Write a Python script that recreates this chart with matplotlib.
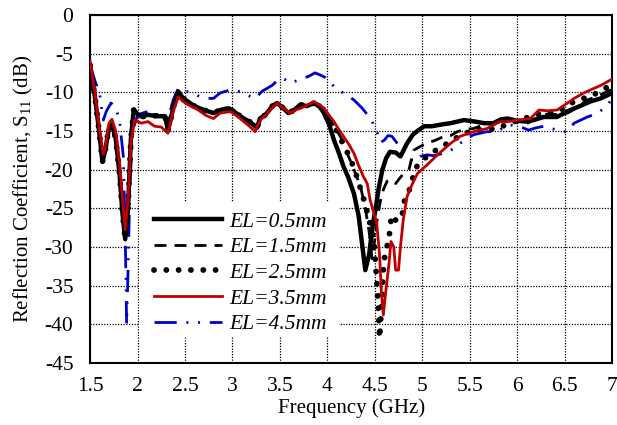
import matplotlib
matplotlib.use("Agg")
import matplotlib.pyplot as plt
from matplotlib.patches import Rectangle
from matplotlib.ticker import MultipleLocator, FuncFormatter

plt.rcParams.update({
    "font.family": "Liberation Serif",
    "font.size": 15,
    "axes.unicode_minus": False,
    "mathtext.fontset": "custom",
    "mathtext.rm": "Liberation Serif",
})

# Low band (1.5-3.8 GHz): the three black traces lie on top of each other
black_low_f = [1.50, 1.55, 1.60, 1.63, 1.66, 1.70, 1.73, 1.77, 1.81, 1.84, 1.87, 1.90,
               1.93, 1.96, 2.00, 2.05, 2.10, 2.15, 2.22, 2.29, 2.32, 2.35, 2.38, 2.43,
               2.48, 2.53, 2.60, 2.70, 2.80, 2.87, 2.94, 3.00, 3.06, 3.12, 3.18, 3.22,
               3.26, 3.29, 3.35, 3.42, 3.47, 3.53, 3.59, 3.65, 3.715, 3.78]
black_low_db = [-6.5, -10.5, -15.5, -19.0, -17.5, -14.5, -14.2, -16.0, -20.5, -25.5, -29.0, -25.0,
                -16.0, -12.3, -12.8, -13.2, -12.9, -13.0, -13.1, -13.1, -14.9, -13.5, -11.8, -9.9,
                -10.8, -11.2, -11.8, -12.3, -12.7, -12.3, -12.1, -12.3, -12.9, -13.4, -13.8, -14.2,
                -14.6, -13.4, -12.9, -11.8, -11.4, -12.0, -12.7, -12.3, -11.6, -11.8]

el05_f = [3.86, 3.92, 3.96, 4.02, 4.07, 4.12, 4.17, 4.22, 4.28, 4.33, 4.37, 4.40, 4.44,
          4.48, 4.51, 4.54, 4.58, 4.62, 4.66, 4.72, 4.77, 4.84, 4.90, 4.95, 5.02, 5.10,
          5.19, 5.30, 5.44, 5.56, 5.65, 5.75, 5.83, 5.90, 6.00, 6.11, 6.20, 6.28, 6.42,
          6.56, 6.66, 6.77, 6.88, 7.0]
el05_db = [-11.4, -11.9, -12.6, -14.2, -16.2, -17.8, -19.6, -21.0, -23.1, -26.0, -30.0, -33.0, -31.0,
           -27.0, -25.0, -22.5, -20.0, -18.5, -17.7, -17.8, -18.3, -16.6, -15.5, -15.0, -14.4, -14.4,
           -14.2, -14.0, -13.6, -13.8, -14.0, -14.0, -13.5, -13.4, -13.7, -13.8, -13.5, -13.2, -13.2,
           -12.3, -11.8, -11.2, -10.8, -10.1]

el15_f = [3.86, 3.92, 3.96, 4.02, 4.10, 4.17, 4.21, 4.28, 4.35, 4.40, 4.44, 4.47, 4.50,
          4.53, 4.56, 4.59, 4.63, 4.66, 4.72, 4.77, 4.82, 4.86, 4.91, 4.98, 5.05, 5.14,
          5.23, 5.30, 5.37, 5.45, 5.54, 5.65, 5.75, 5.90, 6.00, 6.11, 6.20, 6.32, 6.42,
          6.53, 6.63, 6.74, 6.85, 7.0]
el15_db = [-11.4, -11.6, -12.2, -13.5, -14.9, -16.5, -17.9, -20.0, -22.2, -25.0, -28.0, -31.5, -29.0,
           -26.0, -24.0, -22.6, -21.5, -21.3, -21.8, -21.0, -20.3, -20.0, -17.5, -17.0, -16.6, -16.2,
           -15.7, -15.6, -15.1, -14.8, -14.7, -14.2, -14.0, -13.6, -13.8, -14.0, -13.4, -12.8, -12.9,
           -12.7, -12.0, -11.0, -10.5, -9.6]

el25_f = [3.86, 3.92, 3.96, 4.02, 4.10, 4.17, 4.24, 4.30, 4.35, 4.40, 4.45, 4.49, 4.52,
          4.54, 4.55, 4.57, 4.59, 4.61, 4.65, 4.66, 4.68, 4.73, 4.79, 4.80, 4.86, 4.93,
          5.00, 5.10, 5.19, 5.29, 5.39, 5.48, 5.58, 5.68, 5.79, 5.88, 5.97, 6.08, 6.18,
          6.28, 6.39, 6.50, 6.60, 6.70, 6.81, 6.92, 7.0]
el25_db = [-11.4, -11.8, -12.3, -13.6, -15.0, -16.8, -18.5, -20.5, -22.5, -24.5, -27.0, -29.0, -34.3,
           -38.6, -41.8, -38.0, -33.0, -30.6, -29.1, -27.4, -25.9, -26.7, -25.9, -24.4, -22.8, -19.8,
           -18.8, -17.8, -17.2, -16.4, -15.7, -15.2, -14.9, -14.8, -14.7, -14.2, -13.8, -13.4, -12.9,
           -12.8, -12.7, -12.0, -11.2, -10.8, -10.3, -9.5, -9.2]

el35_f = [1.50, 1.55, 1.60, 1.64, 1.67, 1.70, 1.73, 1.77, 1.81, 1.84, 1.87, 1.90, 1.93,
          1.97, 2.04, 2.11, 2.18, 2.25, 2.32, 2.375, 2.43, 2.48, 2.53, 2.64, 2.72, 2.80,
          2.87, 2.98, 3.06, 3.12, 3.18, 3.24, 3.29, 3.35, 3.42, 3.47, 3.53, 3.61, 3.66,
          3.715, 3.80, 3.86, 3.91, 3.96, 4.02, 4.07, 4.12, 4.17, 4.23, 4.28, 4.33, 4.38,
          4.42, 4.45, 4.49, 4.52, 4.55, 4.57, 4.59, 4.61, 4.65, 4.67, 4.70, 4.72, 4.75,
          4.77, 4.80, 4.84, 4.89, 4.95, 5.05, 5.16, 5.30, 5.40, 5.54, 5.61, 5.68, 5.82,
          5.90, 6.00, 6.14, 6.23, 6.32, 6.42, 6.53, 6.60, 6.70, 6.81, 6.90, 7.0]
el35_db = [-6.0, -10.0, -15.0, -18.0, -16.5, -14.0, -13.5, -15.0, -19.0, -23.5, -27.8, -24.0, -16.5,
           -13.6, -14.0, -13.8, -14.4, -14.5, -15.3, -12.5, -10.6, -11.2, -11.6, -12.3, -13.0, -13.4,
           -12.7, -12.5, -13.2, -13.8, -14.4, -15.1, -13.6, -13.0, -12.0, -11.4, -12.0, -12.7, -12.3,
           -12.1, -11.6, -11.2, -11.6, -12.0, -13.0, -13.8, -14.8, -15.7, -16.8, -17.9, -19.5, -20.9,
           -21.8, -23.9, -25.6, -26.9, -31.0, -36.0, -38.8, -36.4, -32.1, -29.3, -30.0, -33.0, -33.0,
           -30.0, -26.5, -23.5, -22.0, -20.5, -19.4, -18.1, -16.6, -15.7, -15.1, -14.9, -14.7, -13.8,
           -13.8, -13.6, -13.4, -12.3, -12.4, -12.3, -11.4, -10.8, -10.1, -9.5, -9.0, -8.3]

el45_f = [1.50, 1.55, 1.60, 1.62, 1.64, 1.67, 1.72, 1.77, 1.81, 1.85, 1.87, 1.885, 1.90,
          1.92, 1.95, 2.00, 2.05, 2.11, 2.16, 2.22, 2.28, 2.32, 2.375, 2.43, 2.48, 2.55,
          2.60, 2.66, 2.73, 2.80, 2.87, 2.95, 3.01, 3.07, 3.12, 3.18, 3.24, 3.31, 3.42,
          3.50, 3.56, 3.61, 3.68, 3.75, 3.81, 3.87, 3.93, 3.98, 4.03, 4.07, 4.14, 4.20,
          4.28, 4.37, 4.44, 4.48, 4.52, 4.56, 4.60, 4.64, 4.68, 4.73, 4.77, 4.84, 4.91,
          4.98, 5.05, 5.12, 5.19, 5.26, 5.33, 5.40, 5.47, 5.54, 5.61, 5.68, 5.79, 5.85,
          5.91, 6.00, 6.06, 6.12, 6.20, 6.28, 6.37, 6.46, 6.53, 6.60, 6.67, 6.74, 6.85,
          6.93, 7.0]
el45_db = [-6.5, -8.5, -10.1, -12.0, -13.6, -12.5, -11.4, -12.0, -13.6, -18.3, -28.0, -40.0, -33.0,
           -22.0, -14.9, -13.0, -12.7, -12.5, -12.8, -12.9, -13.2, -13.6, -11.0, -9.5, -9.8, -10.0,
           -10.2, -10.6, -10.8, -10.8, -10.1, -9.8, -9.7, -9.9, -10.2, -10.5, -10.8, -9.9, -9.1,
           -8.2, -8.4, -8.8, -8.5, -8.2, -7.9, -7.5, -7.8, -8.1, -8.6, -9.3, -9.9, -10.3,
           -11.0, -12.1, -13.2, -14.0, -15.0, -16.5, -16.2, -15.6, -15.7, -16.5, -17.2, -18.3, -19.0,
           -18.3, -18.1, -18.2, -18.0, -17.7, -17.3, -16.6, -16.0, -15.5, -15.3, -15.1, -15.1, -14.6,
           -14.2, -14.4, -14.6, -14.9, -14.6, -14.4, -14.7, -15.1, -15.1, -14.0, -13.6, -13.2, -12.7,
           -11.9, -10.9]

labels = ["EL=0.5mm", "EL=1.5mm", "EL=2.5mm", "EL=3.5mm", "EL=4.5mm"]

fig = plt.figure(figsize=(6.17, 4.25), dpi=100)
ax = fig.add_axes([0.146, 0.146, 0.846, 0.819])

ax.grid(True, color="black", linestyle=(0, (1, 1.2)), linewidth=0.9)
ax.set_axisbelow(True)

# low band shared by the black traces + each one's high band
f05 = black_low_f + el05_f
f15 = black_low_f + el15_f
f25 = black_low_f + el25_f
d05 = black_low_db + el05_db
d15 = black_low_db + el15_db
d25 = black_low_db + el25_db

ax.plot(f25, d25, color="black", linewidth=4.2, linestyle=(0, (0.01, 2.1)),
        dash_capstyle="round", label=labels[2], zorder=3)
ax.plot(f15, d15, color="black", linewidth=2.0, linestyle=(0, (4.3, 2.9)),
        label=labels[1], zorder=3)
ax.plot(f05, d05, color="black", linewidth=3.2, label=labels[0], zorder=4)
ax.plot(el35_f, el35_db, color="#C00000", linewidth=2.0, label=labels[3], zorder=5)
ax.plot(el45_f, el45_db, color="#0000CC", linewidth=2.0,
        linestyle=(0, (8, 3.5, 0.7, 3.5, 0.7, 3.5)), label=labels[4], zorder=2)

ax.set_xlim(1.5, 7)
ax.set_ylim(-45, 0)
ax.xaxis.set_major_locator(MultipleLocator(0.5))
ax.yaxis.set_major_locator(MultipleLocator(5))
ax.xaxis.set_major_formatter(FuncFormatter(lambda v, p: f"{v:g}"))
ax.yaxis.set_major_formatter(FuncFormatter(lambda v, p: f"{v:g}"))
ax.tick_params(length=0, labelsize=15.5)
ax.tick_params(axis="y", pad=12)
ax.tick_params(axis="x", pad=10)
for s in ax.spines.values():
    s.set_linewidth(1.5)
    s.set_color("black")

ax.set_xlabel("Frequency (GHz)", fontsize=15, labelpad=2)
ax.set_ylabel(r"Reflection Coefficient, S$_\mathregular{11}$ (dB)", fontsize=15, labelpad=7)

# white legend box (no border) hiding the grid behind the legend
ax.add_patch(Rectangle((0.094, 0.075), 0.383, 0.388, transform=ax.transAxes,
                       facecolor="white", edgecolor="none", zorder=6))

h, l = ax.get_legend_handles_labels()
order = [l.index(x) for x in labels]
leg = ax.legend([h[i] for i in order], [l[i] for i in order], loc="upper left",
                bbox_to_anchor=(0.105, 0.46), frameon=False,
                prop={"family": "Liberation Serif", "style": "italic", "size": 15.5},
                handlelength=3.2, handletextpad=0.3, labelspacing=0.26, borderaxespad=0)
leg.set_zorder(7)

fig.savefig("out.png", dpi=100)
